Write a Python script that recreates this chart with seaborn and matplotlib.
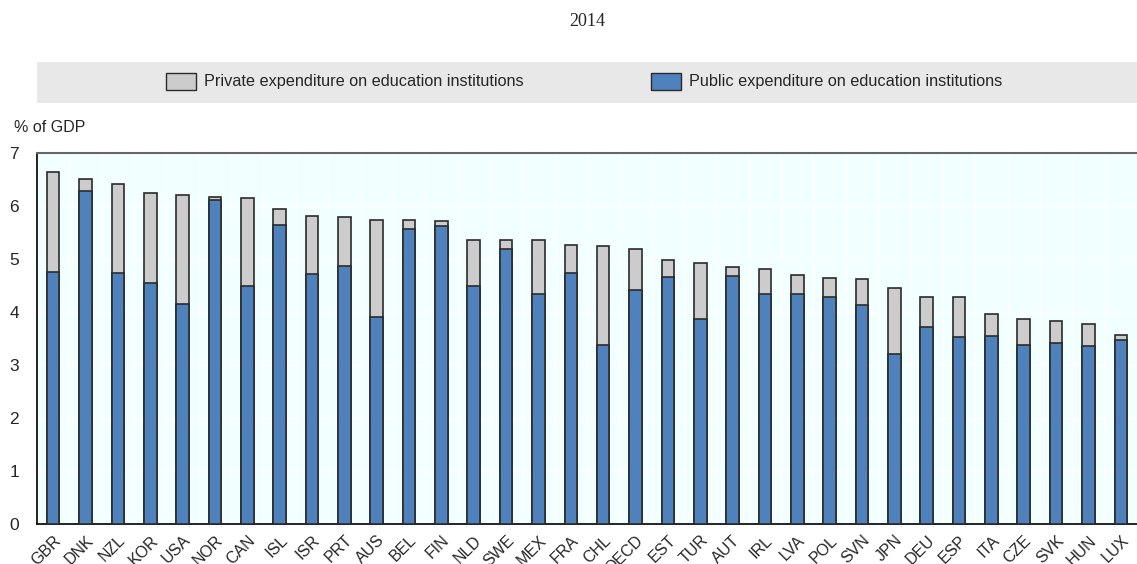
import matplotlib
matplotlib.use("Agg")
import matplotlib.pyplot as plt
from matplotlib.patches import Rectangle
from matplotlib import font_manager
import seaborn as sns
import pandas as pd
import numpy as np

countries = ["GBR", "DNK", "NZL", "KOR", "USA", "NOR", "CAN", "ISL", "ISR", "PRT", "AUS",
             "BEL", "FIN", "NLD", "SWE", "MEX", "FRA", "CHL", "OECD", "EST", "TUR", "AUT",
             "IRL", "LVA", "POL", "SVN", "JPN", "DEU", "ESP", "ITA", "CZE", "SVK", "HUN", "LUX"]
public = [4.76, 6.29, 4.74, 4.55, 4.16, 6.12, 4.50, 5.65, 4.72, 4.88, 3.91,
          5.57, 5.63, 4.50, 5.20, 4.35, 4.74, 3.38, 4.42, 4.67, 3.87, 4.69,
          4.35, 4.35, 4.28, 4.14, 3.21, 3.72, 3.53, 3.55, 3.38, 3.43, 3.36, 3.48]
total = [6.65, 6.51, 6.42, 6.26, 6.22, 6.17, 6.16, 5.95, 5.82, 5.80, 5.75,
         5.75, 5.72, 5.37, 5.37, 5.37, 5.27, 5.25, 5.20, 4.98, 4.93, 4.85,
         4.81, 4.71, 4.65, 4.62, 4.45, 4.28, 4.28, 3.97, 3.87, 3.84, 3.77, 3.58]
series_labels = ["Private expenditure on education institutions",
                 "Public expenditure on education institutions"]
yticks = [0, 1, 2, 3, 4, 5, 6, 7]

sns.set_theme(style="white")
avail = {f.name for f in font_manager.fontManager.ttflist}
fam = "Liberation Sans Narrow" if "Liberation Sans Narrow" in avail else "Liberation Sans"
plt.rcParams["font.family"] = [fam, "DejaVu Sans"]

BLUE = "#4F81BD"
GREY = "#CCCCCC"
EDGE = "#2b2b2b"

df = pd.DataFrame({"country": countries, "public": public, "total": total})

W, H = 1137, 564
fig = plt.figure(figsize=(W / 100, H / 100), dpi=100)
ax = fig.add_axes([37 / W, (H - 524.3) / H, 1 - 37 / W, (524.3 - 153.3) / H])
ax.set_facecolor("#F2FFFF")

sns.barplot(data=df, x="country", y="total", color=GREY, saturation=1, width=0.39,
            edgecolor=EDGE, linewidth=1.2, ax=ax, zorder=2)
sns.barplot(data=df, x="country", y="public", color=BLUE, saturation=1, width=0.39,
            edgecolor=EDGE, linewidth=1.2, ax=ax, zorder=3)

ax.set_xlim(-0.5, -0.5 + 1100 / 32.6)
ax.set_ylim(0, 7)
ax.set_yticks(yticks)
ax.set_xlabel("")
ax.set_ylabel("")

ax.set_xticks(np.arange(len(countries)))
ax.set_xticklabels(countries, rotation=45, ha="right", rotation_mode="anchor", fontsize=11.5)
ax.set_xticks(np.arange(len(countries)) + 0.5, minor=True)
ax.tick_params(axis="x", which="major", length=0, pad=6)
ax.tick_params(axis="x", which="minor", direction="in", length=5, width=1, color="#222222")
ax.tick_params(axis="y", which="major", direction="in", length=6, width=1, color="#222222",
               labelsize=12.5, pad=16.5)
for lab in ax.get_yticklabels():
    lab.set_horizontalalignment("center")

ax.grid(False)
ax.yaxis.grid(True, color="white", linewidth=1)
ax.xaxis.grid(True, which="minor", color="white", linewidth=1)
ax.set_axisbelow(True)

for side in ["left", "bottom"]:
    ax.spines[side].set_color("#111111")
    ax.spines[side].set_linewidth(1.3)
ax.spines["top"].set_color("#666666")
ax.spines["top"].set_linewidth(1.5)
ax.spines["right"].set_visible(False)

# Title
fig.text(587 / W, 1 - 22 / H, "2014", ha="center", va="center",
         fontsize=13, family=["Liberation Serif"])

# Legend band
fig.patches.append(Rectangle((37 / W, 1 - 103 / H), 1 - 37 / W, 41 / H,
                             transform=fig.transFigure, facecolor="#E8E8E8",
                             edgecolor="none", zorder=0))
for x0, col, lab in [(166, GREY, series_labels[0]), (651, BLUE, series_labels[1])]:
    fig.patches.append(Rectangle((x0 / W, 1 - 90 / H), 30 / W, 17 / H,
                                 transform=fig.transFigure, facecolor=col,
                                 edgecolor=EDGE, linewidth=1, zorder=1))
    fig.text((x0 + 38) / W, 1 - 81.5 / H, lab, ha="left", va="center", fontsize=11.7)

fig.text(14 / W, 1 - 128 / H, "% of GDP", ha="left", va="center", fontsize=11.5)

fig.savefig("out.png", dpi=100)
